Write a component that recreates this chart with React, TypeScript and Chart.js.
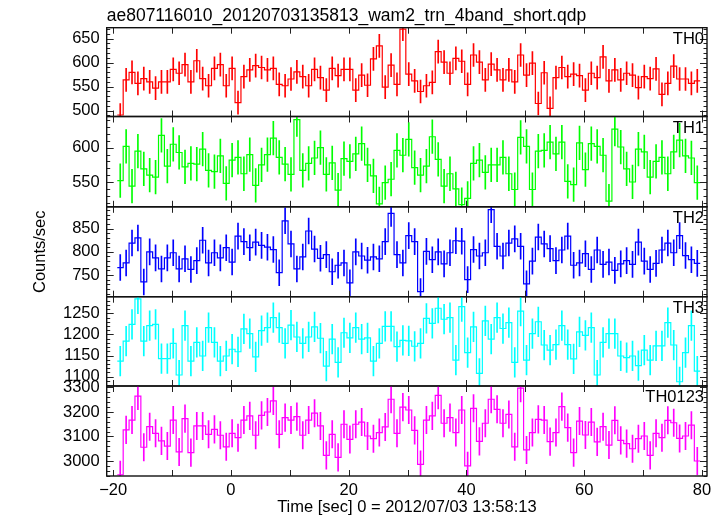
import React, { useEffect, useRef } from "react";
import { Chart, registerables } from "chart.js";

Chart.register(...registerables);

const TITLE = "ae807116010_20120703135813_wam2_trn_4band_short.qdp";
const X_TITLE = "Time [sec] 0 = 2012/07/03 13:58:13";
const Y_TITLE = "Counts/sec";

// bin centres (s), 1-s bins
const binCenters = [
  -18.8, -17.8, -16.8, -15.8, -14.8, -13.8, -12.8, -11.8, -10.8, -9.8,
  -8.8, -7.8, -6.8, -5.8, -4.8, -3.8, -2.8, -1.8, -0.8, 0.2,
  1.2, 2.2, 3.2, 4.2, 5.2, 6.2, 7.2, 8.2, 9.2, 10.2,
  11.2, 12.2, 13.2, 14.2, 15.2, 16.2, 17.2, 18.2, 19.2, 20.2,
  21.2, 22.2, 23.2, 24.2, 25.2, 26.2, 27.2, 28.2, 29.2, 30.2,
  31.2, 32.2, 33.2, 34.2, 35.2, 36.2, 37.2, 38.2, 39.2, 40.2,
  41.2, 42.2, 43.2, 44.2, 45.2, 46.2, 47.2, 48.2, 49.2, 50.2,
  51.2, 52.2, 53.2, 54.2, 55.2, 56.2, 57.2, 58.2, 59.2, 60.2,
  61.2, 62.2, 63.2, 64.2, 65.2, 66.2, 67.2, 68.2, 69.2, 70.2,
  71.2, 72.2, 73.2, 74.2, 75.2, 76.2, 77.2, 78.2, 79.2,
];
const binHalfWidth = 0.5;

const th0 = [
  491, 564, 580, 557, 567, 560, 547, 560, 560, 586,
  578, 596, 560, 604, 567, 552, 588, 596, 552, 588,
  517, 571, 585, 594, 590, 585, 588, 555, 552, 566,
  581, 571, 552, 586, 569, 543, 588, 573, 586, 586,
  543, 574, 553, 608, 635, 549, 595, 555, 670, 576,
  562, 540, 552, 559, 623, 601, 578, 609, 603, 555,
  616, 601, 564, 597, 585, 564, 585, 560, 616, 574,
  599, 515, 579, 505, 569, 590, 571, 576, 573, 543,
  578, 569, 612, 562, 585, 564, 578, 574, 548, 571,
  567, 587, 534, 557, 593, 566, 566, 557, 562,
];
const th1 = [
  552, 602, 544, 595, 569, 560, 557, 618, 573, 605,
  593, 572, 577, 576, 598, 567, 565, 588, 548, 582,
  586, 562, 590, 545, 575, 590, 614, 586, 576, 561,
  641, 567, 577, 585, 600, 561, 578, 538, 584, 580,
  591, 606, 575, 559, 518, 549, 554, 596, 589, 612,
  571, 560, 573, 616, 583, 544, 562, 540, 517, 526,
  577, 582, 564, 575, 575, 586, 562, 539, 615, 602,
  539, 595, 596, 608, 591, 608, 551, 546, 607, 568,
  606, 602, 589, 522, 627, 601, 569, 550, 598, 594,
  557, 580, 586, 562, 594, 611, 588, 585, 549,
];
const th2 = [
  766, 776, 819, 830, 735, 800, 787, 763, 787, 798,
  763, 785, 762, 781, 825, 776, 798, 787, 809, 778,
  834, 822, 809, 821, 814, 810, 805, 755, 867, 817,
  763, 789, 845, 806, 786, 794, 757, 771, 776, 733,
  800, 791, 782, 789, 785, 822, 883, 794, 776, 835,
  822, 714, 801, 783, 800, 774, 798, 824, 823, 740,
  805, 791, 798, 891, 812, 791, 819, 828, 812, 731,
  780, 832, 817, 807, 781, 804, 834, 771, 776, 796,
  762, 804, 773, 778, 760, 774, 781, 773, 821, 780,
  762, 775, 804, 819, 798, 835, 792, 783, 775,
];
const th3 = [
  1137, 1184, 1224, 1284, 1184, 1221, 1224, 1143, 1143, 1179,
  1104, 1221, 1137, 1181, 1149, 1216, 1181, 1137, 1149, 1165,
  1159, 1213, 1202, 1147, 1209, 1216, 1240, 1216, 1179, 1222,
  1194, 1179, 1194, 1218, 1191, 1125, 1189, 1134, 1204, 1192,
  1216, 1189, 1192, 1137, 1179, 1219, 1219, 1171, 1186, 1185,
  1172, 1179, 1238, 1226, 1262, 1236, 1240, 1139, 1266, 1157,
  1218, 1108, 1232, 1189, 1240, 1214, 1228, 1134, 1255, 1139,
  1202, 1230, 1175, 1163, 1176, 1221, 1176, 1142, 1206, 1198,
  1216, 1104, 1181, 1202, 1202, 1149, 1145, 1149, 1126, 1163,
  1139, 1173, 1173, 1228, 1175, 1088, 1157, 1221, 1113,
];
const th0123 = [
  2944, 3127, 3167, 3265, 3056, 3140, 3113, 3082, 3061, 3167,
  3037, 3173, 3034, 3143, 3143, 3109, 3129, 3105, 3058, 3113,
  3095, 3167, 3184, 3105, 3186, 3200, 3245, 3109, 3177, 3167,
  3181, 3105, 3167, 3195, 3143, 3023, 3109, 3015, 3150, 3088,
  3150, 3159, 3102, 3091, 3116, 3139, 3252, 3113, 3220, 3208,
  3125, 2986, 3167, 3184, 3268, 3154, 3177, 3116, 3208, 2980,
  3215, 3080, 3154, 3252, 3211, 3154, 3190, 3058, 3297, 3045,
  3116, 3170, 3167, 3079, 3116, 3222, 3136, 3034, 3163, 3106,
  3159, 3078, 3140, 3065, 3166, 3084, 3071, 3050, 3091, 3102,
  3023, 3113, 3095, 3166, 3156, 3092, 3102, 3146, 3000,
];

// typical 1-sigma error read from the error bars of each panel
const errors = [24, 24.5, 28, 35, 56];
const seriesNames = ["TH0", "TH1", "TH2", "TH3", "TH0123"];
const seriesValues = [th0, th1, th2, th3, th0123];
const yRanges = [
  [487.9, 672.9],
  [513.8, 645.5],
  [703.1, 897.3],
  [1078, 1289.3],
  [2938.8, 3306],
];
const yMajorSteps = [50, 50, 50, 50, 100];
const yMinorSteps = [10, 10, 10, 10, 20];
const xRange = [-21.1, 80.85];
const xLabelStep = 20;
const xTickStep = 10;

// styles / layout
const colors = ["#ff0000", "#00ff00", "#0000ff", "#00ffff", "#ff00ff"];
const W = 723;
const H = 516;
const panelTops = [27.7, 116.5, 206.8, 296.7, 386];
const panelBottoms = [116.5, 206.8, 296.7, 386, 476];
const plotLeft = 106.7;
const plotRight = 707;
const FONT_FAMILY = '"Liberation Sans", Arial, Helvetica, sans-serif';
const FS = 16.5;
const TITLE_FS = 17.5;

const qdpPanelPlugin = {
  id: "qdpPanel",
  afterDatasetsDraw(chart: any, _args: any, opts: any) {
    const { ctx, chartArea: a } = chart;
    const xs = chart.scales.x;
    const ys = chart.scales.y;
    ctx.save();
    ctx.strokeStyle = "#222";
    ctx.lineWidth = 1;
    ctx.beginPath();
    const start = Math.ceil(ys.min / opts.yMinor) * opts.yMinor;
    for (let v = start; v <= ys.max + 1e-9; v += opts.yMinor) {
      const py = Math.round(ys.getPixelForValue(v)) + 0.5;
      const r = v / opts.yMajor;
      const major = Math.abs(r - Math.round(r)) < 1e-6;
      const len = major ? 7 : 3.5;
      ctx.moveTo(a.left, py);
      ctx.lineTo(a.left + len, py);
      ctx.moveTo(a.right, py);
      ctx.lineTo(a.right - len, py);
    }
    const xs0 = Math.ceil(xs.min / opts.xTick) * opts.xTick;
    for (let v = xs0; v <= xs.max + 1e-9; v += opts.xTick) {
      const px = Math.round(xs.getPixelForValue(v)) + 0.5;
      ctx.moveTo(px, a.top);
      ctx.lineTo(px, a.top + 6);
      ctx.moveTo(px, a.bottom);
      ctx.lineTo(px, a.bottom - 6);
    }
    ctx.stroke();
    ctx.lineWidth = 1.4;
    ctx.strokeStyle = "#111";
    ctx.strokeRect(a.left, a.top, a.right - a.left, a.bottom - a.top);
    ctx.fillStyle = "#000";
    ctx.font = `${FS}px ${FONT_FAMILY}`;
    ctx.textAlign = "right";
    ctx.textBaseline = "alphabetic";
    ctx.fillText(opts.label, a.right - 3, a.top + 16);
    if (opts.title) {
      ctx.textAlign = "left";
      ctx.font = `${TITLE_FS}px ${FONT_FAMILY}`;
      ctx.fillText(opts.title, a.left, a.top - 7);
    }
    ctx.restore();
  },
};

function fmtTick(v: number) {
  return v < 0 ? "\u2212" + Math.abs(v) : String(v);
}

function buildConfig(i: number): any {
  const vals = seriesValues[i];
  const err = errors[i];
  const isBottom = i === 4;
  const stepPoints = vals.map((v, k) => ({ x: binCenters[k] - binHalfWidth, y: v }));
  stepPoints.push({ x: binCenters[vals.length - 1] + binHalfWidth, y: vals[vals.length - 1] });
  const errPoints = vals.map((v, k) => ({ x: binCenters[k], y: [v - err, v + err] }));
  return {
    type: "line",
    data: {
      datasets: [
        {
          type: "bar",
          label: seriesNames[i] + " error",
          data: errPoints,
          backgroundColor: colors[i],
          borderWidth: 0,
          barThickness: 1,
          grouped: false,
          clip: 0,
        },
        {
          type: "line",
          label: seriesNames[i],
          data: stepPoints,
          stepped: "before",
          borderColor: colors[i],
          borderWidth: 1.2,
          pointRadius: 0,
          fill: false,
          tension: 0,
          clip: 0,
        },
      ],
    },
    options: {
      responsive: false,
      animation: false,
      events: [],
      layout: {
        padding: {
          left: 0,
          right: W - plotRight,
          top: panelTops[i],
          bottom: isBottom ? 0 : H - panelBottoms[i],
        },
      },
      plugins: {
        legend: { display: false },
        tooltip: { enabled: false },
        title: { display: false },
        qdpPanel: {
          label: seriesNames[i],
          title: i === 0 ? TITLE : "",
          yMinor: yMinorSteps[i],
          yMajor: yMajorSteps[i],
          xTick: xTickStep,
        },
      },
      scales: {
        x: {
          type: "linear",
          display: isBottom,
          min: xRange[0],
          max: xRange[1],
          offset: false,
          grid: { display: false, drawTicks: false },
          border: { display: false },
          ticks: {
            stepSize: xLabelStep,
            includeBounds: false,
            autoSkip: false,
            maxRotation: 0,
            padding: 5,
            color: "#000",
            font: { family: FONT_FAMILY, size: FS },
            callback: (v: any) => fmtTick(Number(v)),
          },
          title: {
            display: true,
            text: X_TITLE,
            color: "#000",
            font: { family: FONT_FAMILY, size: FS },
            padding: { top: 0, bottom: -1 },
          },
          afterFit: (s: any) => {
            s.height = isBottom ? H - panelBottoms[4] : 0;
          },
        },
        y: {
          type: "linear",
          position: "left",
          min: yRanges[i][0],
          max: yRanges[i][1],
          grid: { display: false, drawTicks: false },
          border: { display: false },
          ticks: {
            stepSize: yMajorSteps[i],
            includeBounds: false,
            autoSkip: false,
            padding: 7,
            color: "#000",
            font: { family: FONT_FAMILY, size: FS },
            callback: (v: any) => fmtTick(Number(v)),
          },
          title: {
            display: i === 2,
            text: Y_TITLE,
            color: "#000",
            font: { family: FONT_FAMILY, size: FS },
            padding: { top: 31, bottom: 0 },
          },
          afterFit: (s: any) => {
            s.width = plotLeft;
          },
        },
      },
    },
    plugins: [qdpPanelPlugin],
  };
}

export default function App() {
  const refs = useRef<(HTMLCanvasElement | null)[]>([]);
  useEffect(() => {
    const charts: Chart[] = [];
    for (let i = 0; i < 5; i++) {
      const c = refs.current[i];
      if (c) charts.push(new Chart(c, buildConfig(i)));
    }
    return () => charts.forEach((c) => c.destroy());
  }, []);
  return (
    <div
      style={{
        position: "fixed",
        left: 0,
        top: 0,
        width: W,
        height: H,
        background: "#ffffff",
        overflow: "hidden",
      }}
    >
      {[0, 1, 2, 3, 4].map((i) => (
        <canvas
          key={i}
          ref={(el) => {
            refs.current[i] = el;
          }}
          width={W}
          height={H}
          style={{ position: "absolute", left: 0, top: 0, width: W, height: H }}
        />
      ))}
    </div>
  );
}
